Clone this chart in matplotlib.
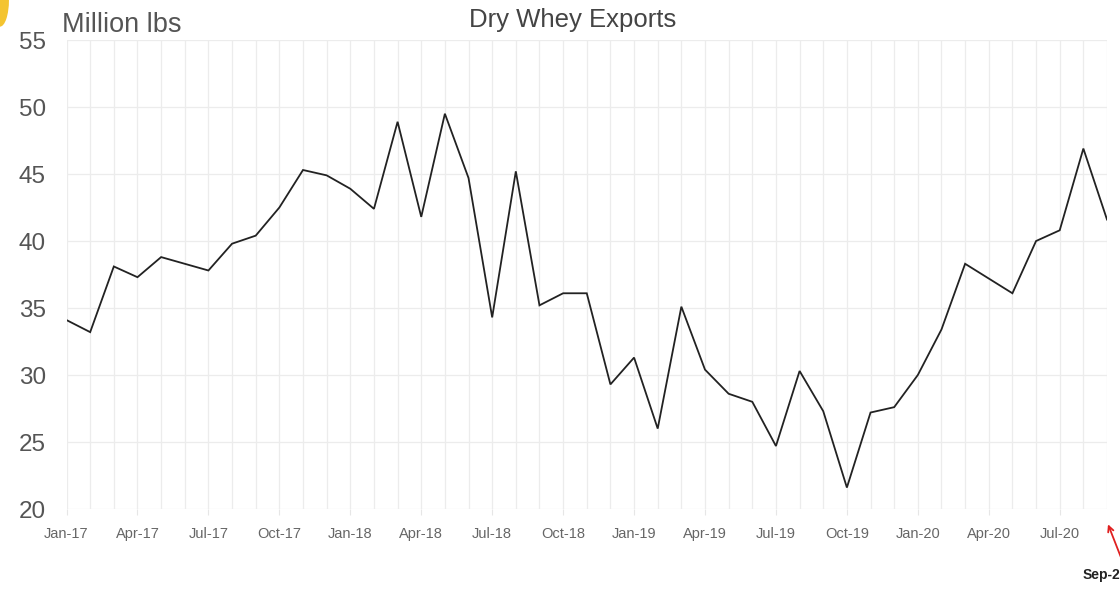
import numpy as np
import matplotlib.pyplot as plt
from matplotlib.patches import Ellipse

plt.rcParams['font.family'] = ['Liberation Sans', 'DejaVu Sans']

# monthly exports, Jan-17 .. Sep-20 (million lbs)
months = ['Jan-17', 'Feb-17', 'Mar-17', 'Apr-17', 'May-17', 'Jun-17', 'Jul-17', 'Aug-17', 'Sep-17',
          'Oct-17', 'Nov-17', 'Dec-17', 'Jan-18', 'Feb-18', 'Mar-18', 'Apr-18', 'May-18', 'Jun-18',
          'Jul-18', 'Aug-18', 'Sep-18', 'Oct-18', 'Nov-18', 'Dec-18', 'Jan-19', 'Feb-19', 'Mar-19',
          'Apr-19', 'May-19', 'Jun-19', 'Jul-19', 'Aug-19', 'Sep-19', 'Oct-19', 'Nov-19', 'Dec-19',
          'Jan-20', 'Feb-20', 'Mar-20', 'Apr-20', 'May-20', 'Jun-20', 'Jul-20', 'Aug-20', 'Sep-20']
exports = [34.1, 33.2, 38.1, 37.3, 38.8, 38.3, 37.8, 39.8, 40.4,
           42.5, 45.3, 44.9, 43.9, 42.4, 48.9, 41.8, 49.5, 44.7,
           34.3, 45.2, 35.2, 36.1, 36.1, 29.3, 31.3, 26.0, 35.1,
           30.4, 28.6, 28.0, 24.7, 30.3, 27.3, 21.6, 27.2, 27.6,
           30.0, 33.4, 38.3, 37.2, 36.1, 40.0, 40.8, 46.9, 41.6]
tick_labels = months[::3]
y_ticks = [20, 25, 30, 35, 40, 45, 50, 55]

x = np.arange(len(months))

fig = plt.figure(figsize=(11.2, 5.92), dpi=100)
ax = fig.add_axes([0.0594, 0.1402, 0.9290, 0.7922])

ax.plot(x, exports, color='#222222', lw=1.3, solid_joinstyle='miter')

ax.set_xlim(0, len(months) - 1)
ax.set_ylim(20, 55)
ax.set_yticks(y_ticks)
ax.set_xticks(x, minor=True)
ax.set_xticks(x[::3])
ax.set_xticklabels(tick_labels)

ax.grid(True, which='both', axis='x', color='#ececec', lw=0.9)
ax.grid(True, which='major', axis='y', color='#ececec', lw=0.9)
ax.set_axisbelow(True)
for s in ax.spines.values():
    s.set_visible(False)

ax.tick_params(axis='y', length=0, pad=15, labelsize=17.5, labelcolor='#555555')
ax.tick_params(axis='x', which='major', length=4, color='#e6e6e6', pad=9, labelsize=10.5, labelcolor='#666666')
ax.tick_params(axis='x', which='minor', length=0)

fig.text(62 / 1120, 1 - 25 / 592, 'Million lbs', fontsize=19.5, color='#555555', va='center', ha='left')
fig.text(573 / 1120, 1 - 20 / 592, 'Dry Whey Exports', fontsize=18.5, color='#444444', va='center', ha='center')

# red callout, cut off at right edge
ax.annotate('', xy=(44, 19.05), xytext=(1122 / 1120, 1 - 560 / 592),
            textcoords='figure fraction', annotation_clip=False,
            arrowprops=dict(arrowstyle='->', color='#e02020', lw=1.3))
fig.text(1083 / 1120, 1 - 575 / 592, 'Sep-20', fontsize=10, fontweight='bold', color='#222222',
         va='center', ha='left')

# yellow blob in the top-left corner
fig.patches.append(Ellipse((0.0, 1.0), 0.016, 0.09, transform=fig.transFigure,
                           facecolor='#f4c430', edgecolor='none'))

fig.savefig('out.png', dpi=100)
